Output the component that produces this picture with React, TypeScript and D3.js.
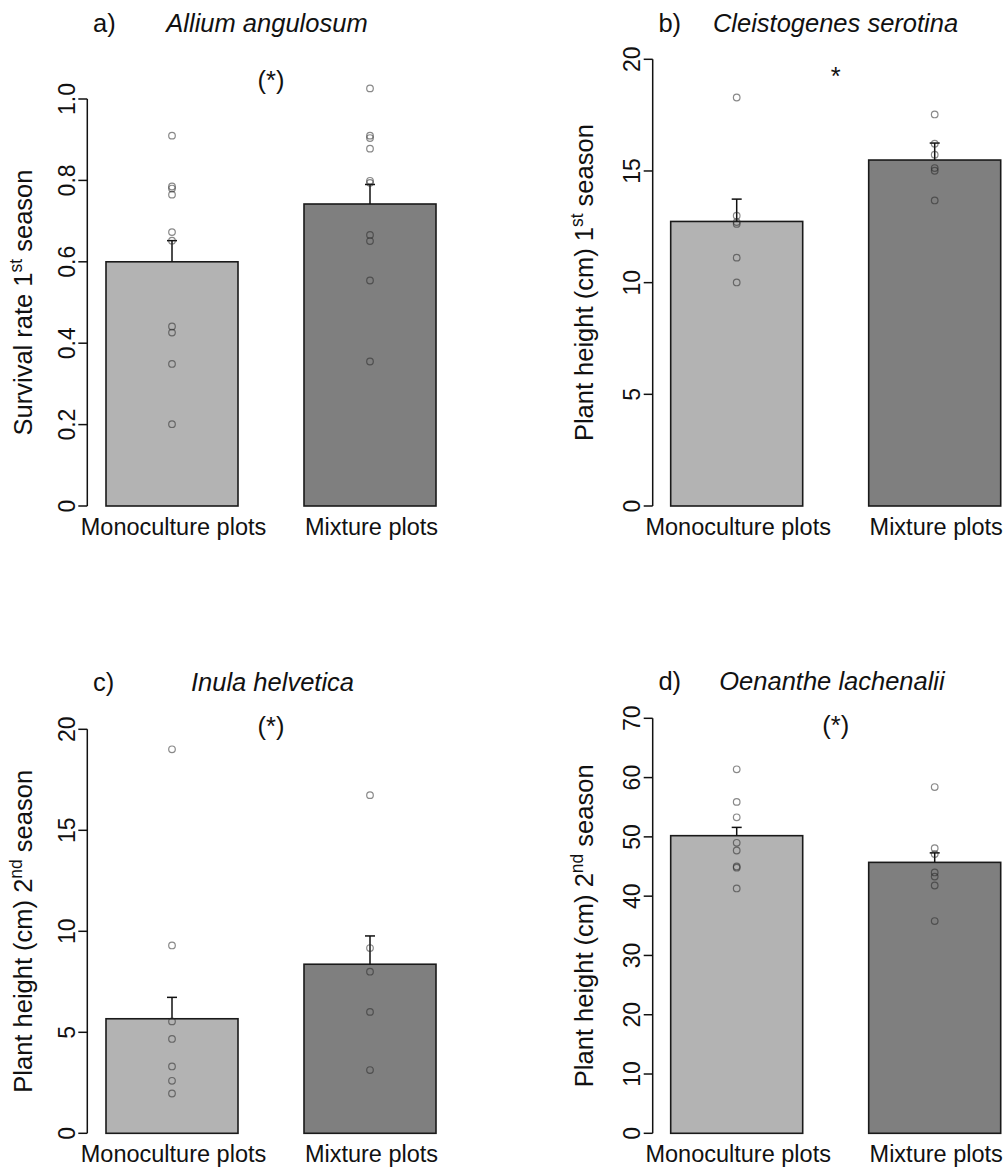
import React from "react";
import * as d3 from "d3";

const groups = ["Monoculture plots", "Mixture plots"];

// Panel a – Allium angulosum, survival rate 1st season
const meansA = [0.6, 0.742];
const seA = [0.052, 0.048];
const monoPtsA = [0.91, 0.785, 0.78, 0.765, 0.673, 0.652, 0.441, 0.426, 0.349, 0.201];
const mixPtsA = [1.026, 0.91, 0.904, 0.878, 0.799, 0.794, 0.666, 0.651, 0.554, 0.355];
const ticksA = [0, 0.2, 0.4, 0.6, 0.8, 1.0];
const tickLabelsA = ["0", "0.2", "0.4", "0.6", "0.8", "1.0"];

// Panel b – Cleistogenes serotina, plant height 1st season
const meansB = [12.74, 15.49];
const seB = [1.0, 0.76];
const monoPtsB = [18.29, 13.0, 12.71, 12.63, 11.12, 10.01];
const mixPtsB = [17.53, 16.22, 15.73, 15.13, 15.01, 13.68];
const ticksB = [0, 5, 10, 15, 20];

// Panel c – Inula helvetica, plant height 2nd season
const meansC = [5.67, 8.37];
const seC = [1.06, 1.4];
const monoPtsC = [19.01, 9.3, 5.54, 4.67, 3.31, 2.6, 1.97];
const mixPtsC = [16.74, 9.17, 8.0, 6.01, 3.13];
const ticksC = [0, 5, 10, 15, 20];

// Panel d – Oenanthe lachenalii, plant height 2nd season
const meansD = [50.2, 45.7];
const seD = [1.4, 1.6];
const monoPtsD = [61.4, 55.9, 53.3, 49.0, 47.7, 45.0, 44.8, 41.3];
const mixPtsD = [58.4, 48.1, 47.1, 44.0, 43.3, 41.8, 35.8];
const ticksD = [0, 10, 20, 30, 40, 50, 60, 70];

const FONT = "'Liberation Sans', Arial, Helvetica, sans-serif";
const fills = ["#b3b3b3", "#7f7f7f"];

type PanelProps = {
  letter: string;
  species: string;
  speciesX: number;
  titleY: number;
  sig: string;
  sigY: number;
  ylabMain: string;
  ylabSup: string;
  domainMax: number;
  ticks: number[];
  tickLabels?: string[];
  means: number[];
  se: number[];
  pts: number[][];
  xRange: [number, number];
  axisX: number;
  yRange: [number, number];
  ylabX: number;
};

function Panel(p: PanelProps) {
  const x = d3
    .scaleBand<string>()
    .domain(groups)
    .range(p.xRange)
    .paddingInner(1 / 3)
    .paddingOuter(1 / 6);
  const y = d3.scaleLinear().domain([0, p.domainMax]).range(p.yRange);
  const bw = x.bandwidth();
  const y0 = y(0);
  const yTop = y(p.domainMax);
  const midY = (y0 + yTop) / 2;
  const sigX = ((x(groups[0])! + bw / 2) + (x(groups[1])! + bw / 2)) / 2;
  return (
    <g>
      {/* titles */}
      <text x={p.axisX + 5.7} y={p.titleY} fontSize={25.5} fontFamily={FONT} fill="#111">
        {p.letter}
      </text>
      <text x={p.speciesX} y={p.titleY} fontSize={25.5} fontFamily={FONT} fontStyle="italic" textAnchor="middle" fill="#111">
        {p.species}
      </text>
      <text x={sigX} y={p.sigY} fontSize={25.5} fontFamily={FONT} textAnchor="middle" fill="#111">
        {p.sig}
      </text>
      {/* bars */}
      {groups.map((g, i) => (
        <rect
          key={g}
          x={x(g)}
          y={y(p.means[i])}
          width={bw}
          height={y0 - y(p.means[i])}
          fill={fills[i]}
          stroke="#1a1a1a"
          strokeWidth={1.6}
        />
      ))}
      {/* error bars */}
      {groups.map((g, i) => {
        const cx = x(g)! + bw / 2;
        const yt = y(p.means[i] + p.se[i]);
        return (
          <g key={g + "e"} stroke="#111" strokeWidth={1.5}>
            <line x1={cx} x2={cx} y1={y(p.means[i])} y2={yt} />
            <line x1={cx - 5} x2={cx + 5} y1={yt} y2={yt} />
          </g>
        );
      })}
      {/* points */}
      {groups.map((g, i) =>
        p.pts[i].map((v, j) => (
          <circle
            key={g + j}
            cx={x(g)! + bw / 2}
            cy={y(v)}
            r={3.3}
            fill="none"
            stroke="rgba(40,40,40,0.55)"
            strokeWidth={1.2}
          />
        ))
      )}
      {/* y axis */}
      <line x1={p.axisX} x2={p.axisX} y1={y0} y2={yTop} stroke="#111" strokeWidth={1.5} />
      {p.ticks.map((t, i) => (
        <g key={t}>
          <line x1={p.axisX - 9} x2={p.axisX} y1={y(t)} y2={y(t)} stroke="#111" strokeWidth={1.5} />
          <text
            transform={`translate(${p.axisX - 12.7},${y(t)}) rotate(-90)`}
            fontSize={23}
            fontFamily={FONT}
            textAnchor="middle"
            fill="#111"
          >
            {p.tickLabels ? p.tickLabels[i] : String(t)}
          </text>
        </g>
      ))}
      {/* y label */}
      <text
        transform={`translate(${p.ylabX},${midY}) rotate(-90)`}
        fontSize={25.5}
        fontFamily={FONT}
        textAnchor="middle"
        fill="#111"
      >
        {p.ylabMain}
        <tspan fontSize={17.5} dy={-10}>
          {p.ylabSup}
        </tspan>
        <tspan dy={10}> season</tspan>
      </text>
      {/* x labels */}
      {groups.map((g) => (
        <text
          key={g + "l"}
          x={x(g)! + bw / 2 + 1.5}
          y={y0 + 29}
          fontSize={23.5}
          fontFamily={FONT}
          textAnchor="middle"
          fill="#111"
        >
          {g}
        </text>
      ))}
    </g>
  );
}

export default function App() {
  return (
    <svg
      width={1007}
      height={1171}
      style={{ position: "absolute", left: 0, top: 0, background: "#fff" }}
    >
      <rect width={1007} height={1171} fill="#fff" />
      <Panel
        letter="a)"
        species="Allium angulosum"
        speciesX={267}
        titleY={32}
        sig="(*)"
        sigY={89}
        ylabMain="Survival rate 1"
        ylabSup="st"
        domainMax={1}
        ticks={ticksA}
        tickLabels={tickLabelsA}
        means={meansA}
        se={seA}
        pts={[monoPtsA, mixPtsA]}
        xRange={[73, 469]}
        axisX={87.3}
        yRange={[506, 99]}
        ylabX={32}
      />
      <Panel
        letter="b)"
        species="Cleistogenes serotina"
        speciesX={835.5}
        titleY={32}
        sig="*"
        sigY={85}
        ylabMain="Plant height (cm) 1"
        ylabSup="st"
        domainMax={20}
        ticks={ticksB}
        means={meansB}
        se={seB}
        pts={[monoPtsB, mixPtsB]}
        xRange={[637.7, 1033.7]}
        axisX={652.7}
        yRange={[506, 59.3]}
        ylabX={593}
      />
      <Panel
        letter="c)"
        species="Inula helvetica"
        speciesX={272.5}
        titleY={690.5}
        sig="(*)"
        sigY={735}
        ylabMain="Plant height (cm) 2"
        ylabSup="nd"
        domainMax={20}
        ticks={ticksC}
        means={meansC}
        se={seC}
        pts={[monoPtsC, mixPtsC]}
        xRange={[73, 469]}
        axisX={87.3}
        yRange={[1133.3, 729.3]}
        ylabX={32}
      />
      <Panel
        letter="d)"
        species="Oenanthe lachenalii"
        speciesX={832}
        titleY={689.5}
        sig="(*)"
        sigY={734}
        ylabMain="Plant height (cm) 2"
        ylabSup="nd"
        domainMax={70}
        ticks={ticksD}
        means={meansD}
        se={seD}
        pts={[monoPtsD, mixPtsD]}
        xRange={[637.7, 1033.7]}
        axisX={652.7}
        yRange={[1133.3, 718.3]}
        ylabX={593}
      />
    </svg>
  );
}
